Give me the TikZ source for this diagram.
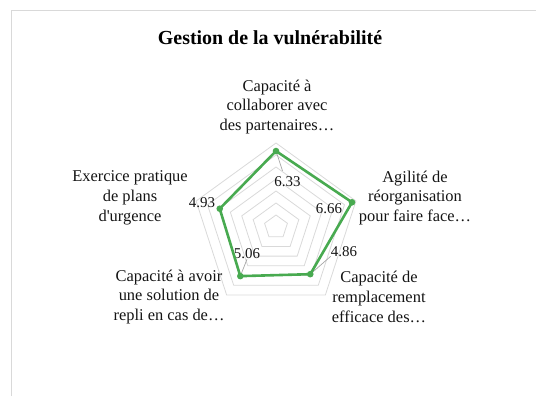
\documentclass[tikz,border=0pt]{standalone}
\usepackage{fontspec}
\setmainfont{Liberation Serif}[Ligatures=TeXOff]
\usepackage{xcolor}
\usepackage{tikz}

\definecolor{serie}{RGB}{72,170,80}
\definecolor{grille}{RGB}{217,217,217}
\definecolor{texte}{RGB}{20,20,20}

\begin{document}
\begin{tikzpicture}[x=1bp,y=1bp,
		cat/.style={align=center,text=texte,inner sep=0pt,font=\fontsize{16.5}{20}\selectfont},
		val/.style={text=texte,inner sep=1pt,font=\fontsize{15}{17}\selectfont},
		leader/.style={draw=black!35,line width=0.7bp}]
			\useasboundingbox (0,0) rectangle (536,396);
			\draw[grille,line width=1bp] (11,0) -- (11,385) -- (536,385);
			\node[text=black,font=\bfseries\fontsize{20}{24}\selectfont] (titre) at (270,358) {Gestion de la vulnérabilité};
			
			\begin{scope}[shift={(276,169)},x=12bp,y=12bp]
				% grid rings
				\foreach \r in {1,...,7}{
					\draw[grille,line width=0.8bp] (90:\r) -- (18:\r) -- (-54:\r) -- (234:\r) -- (162:\r) -- cycle;
				}
				% data points
				\foreach \x/\y/\v in
				{p1/90/6.33, p2/18/6.66, p3/-54/4.86, p4/234/5.06, p5/162/4.93}{
					\coordinate(\x) at (\y:\v);
				}
			\end{scope}
			
			% data labels
			\node[val] (l1) at (287.5,214) {6.33}; % p1/90
			\node[val] (l2) at (329,187) {6.66}; % p2/18
			\node[val] (l3) at (344,144) {4.86}; % p3/-54
			\node[val] (l4) at (247,142) {5.06}; % p4/234
			\node[val] (l5) at (202,193) {4.93}; % p5/162
			
			\draw[leader] (p1) -- ([xshift=-5bp,yshift=5bp]l1.north);
			\draw[leader] (p3) -- ([xshift=1bp,yshift=2bp]l3.south west);
			\draw[leader] (p4) -- ([yshift=1bp]l4.south);
			
			\draw[serie,line width=2.6bp,line join=round] (p1)--(p2)--(p3)--(p4)--(p5)--cycle;
			\foreach \x in {p1,p2,p3,p4,p5}{
				\fill[serie] (\x) circle (3.3bp);
			}
			
			% axis labels
			\node[cat] (c1) at (277,289) {Capacité à\\collaborer avec\\des partenaires…};
			\node[cat] (c2) at (415,198) {Agilité de\\réorganisation\\pour faire face…};
			\node[cat] (c3) at (379,99) {Capacité de\\remplacement\\efficace des…};
			\node[cat] (c4) at (169,99) {Capacité à avoir\\une solution de\\repli en cas de…};
			\node[cat] (c5) at (130,198) {Exercice pratique\\de plans\\d'urgence};
		\end{tikzpicture}
\end{document}
